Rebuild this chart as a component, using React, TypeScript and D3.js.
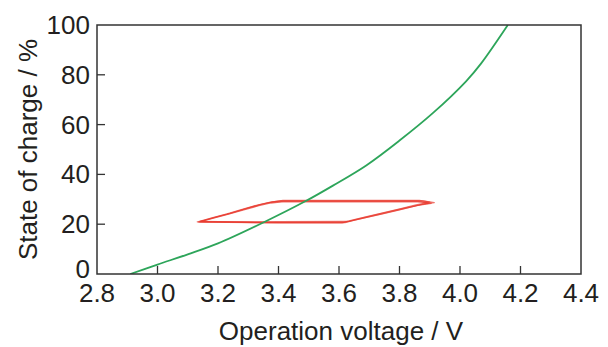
import React from "react";
import * as d3 from "d3";

const xTicks = [2.8, 3.0, 3.2, 3.4, 3.6, 3.8, 4.0, 4.2, 4.4];
const yTicks = [0, 20, 40, 60, 80, 100];

// OCV curve (green)
const ocvVoltage = [2.91, 3.0, 3.1, 3.2, 3.355, 3.49, 3.58, 3.69, 3.8, 3.91, 4.02, 4.07, 4.158];
const ocvSoc = [0, 3.8, 7.9, 12.3, 21.0, 29.3, 35.5, 43.6, 53.6, 64.6, 77.4, 84.6, 100];

// Cycling loops (red), several cycles
const cycle1Voltage = [3.13, 3.18, 3.23, 3.28, 3.33, 3.37, 3.405, 3.6, 3.8, 3.878, 3.915, 3.87, 3.82, 3.76, 3.70, 3.655, 3.63, 3.4, 3.13];
const cycle1Soc = [20.9, 22.6, 24.2, 26.0, 27.7, 28.8, 29.4, 29.4, 29.4, 29.4, 28.7, 27.9, 26.6, 24.9, 23.2, 21.9, 21.1, 21.0, 20.9];
const cycle2Voltage = [3.135, 3.185, 3.235, 3.285, 3.335, 3.375, 3.41, 3.6, 3.8, 3.872, 3.905, 3.86, 3.81, 3.75, 3.69, 3.645, 3.62, 3.4, 3.135];
const cycle2Soc = [20.8, 22.4, 24.0, 25.7, 27.4, 28.5, 29.0, 29.0, 29.0, 29.0, 28.4, 27.5, 26.1, 24.4, 22.7, 21.4, 20.6, 20.6, 20.8];
const cycle3Voltage = [3.14, 3.19, 3.24, 3.29, 3.34, 3.38, 3.415, 3.6, 3.8, 3.866, 3.9, 3.855, 3.805, 3.745, 3.685, 3.64, 3.615, 3.4, 3.14];
const cycle3Soc = [21.1, 22.8, 24.4, 26.2, 27.9, 29.0, 29.6, 29.6, 29.6, 29.6, 28.9, 27.8, 26.3, 24.6, 22.9, 21.6, 20.8, 20.7, 21.1];
const cycle4Voltage = [3.14, 3.19, 3.24, 3.29, 3.34, 3.38, 3.415, 3.6, 3.8, 3.86, 3.895, 3.85, 3.8, 3.74, 3.68, 3.635, 3.61, 3.4, 3.14];
const cycle4Soc = [21.0, 22.7, 24.3, 26.1, 27.8, 28.9, 29.2, 29.2, 29.2, 29.2, 28.5, 27.2, 25.7, 24.0, 22.4, 21.2, 20.5, 20.5, 21.0];

const W = 608, H = 347;
const L = 97, R = 581, T = 25, B = 274;
const FONT = "'Liberation Sans', Arial, Helvetica, sans-serif";

export default function App() {
  const x = d3.scaleLinear().domain([2.8, 4.4]).range([L, R]);
  const y = d3.scaleLinear().domain([0, 100]).range([B, T]);
  const line = d3
    .line<[number, number]>()
    .x((d) => x(d[0]))
    .y((d) => y(d[1]));
  const ocvLine = d3
    .line<[number, number]>()
    .x((d) => x(d[0]))
    .y((d) => y(d[1]))
    .curve(d3.curveCatmullRom.alpha(0.5));
  const ocv = ocvVoltage.map((v, i) => [v, ocvSoc[i]] as [number, number]);
  const cycles = [
    [cycle1Voltage, cycle1Soc],
    [cycle2Voltage, cycle2Soc],
    [cycle3Voltage, cycle3Soc],
    [cycle4Voltage, cycle4Soc],
  ].map(([vs, ss]) => vs.map((v, i) => [v, ss[i]] as [number, number]));

  return (
    <svg
      width={W}
      height={H}
      style={{ position: "absolute", left: 0, top: 0, background: "#fff" }}
    >
      <defs>
        <clipPath id="plot">
          <rect x={L} y={T} width={R - L} height={B - T} />
        </clipPath>
      </defs>
      <g clipPath="url(#plot)">
        {cycles.map((c, i) => (
          <path
            key={i}
            d={line(c) || ""}
            fill="none"
            stroke="#e8392e"
            strokeWidth={1.2}
            strokeOpacity={0.7}
            strokeLinejoin="round"
          />
        ))}
        <path d={ocvLine(ocv) || ""} fill="none" stroke="#2da55a" strokeWidth={1.8} />
      </g>
      <rect x={L} y={T} width={R - L} height={B - T} fill="none" stroke="#333" strokeWidth={1.5} />
      {xTicks.slice(1, -1).map((t) => (
        <line key={t} x1={x(t)} x2={x(t)} y1={B} y2={B - 8} stroke="#333" strokeWidth={1.3} />
      ))}
      {yTicks.slice(1, -1).map((t) => (
        <line key={t} x1={L} x2={L + 8} y1={y(t)} y2={y(t)} stroke="#333" strokeWidth={1.3} />
      ))}
      {xTicks.map((t) => (
        <text key={t} x={x(t)} y={302} textAnchor="middle" fontFamily={FONT} fontSize={26} fill="#231f20">
          {t.toFixed(1)}
        </text>
      ))}
      {yTicks.map((t) => (
        <text
          key={t}
          x={90}
          y={t === 0 ? y(t) - 5 : y(t)}
          textAnchor="end"
          dominantBaseline="central"
          fontFamily={FONT}
          fontSize={26}
          fill="#231f20"
        >
          {t}
        </text>
      ))}
      <text x={(L + R) / 2 + 2} y={340} textAnchor="middle" fontFamily={FONT} fontSize={26} fill="#231f20">
        Operation voltage / V
      </text>
      <text
        transform={`translate(37,${(T + B) / 2}) rotate(-90)`}
        textAnchor="middle"
        fontFamily={FONT}
        fontSize={26}
        fill="#231f20"
      >
        State of charge / %
      </text>
    </svg>
  );
}
